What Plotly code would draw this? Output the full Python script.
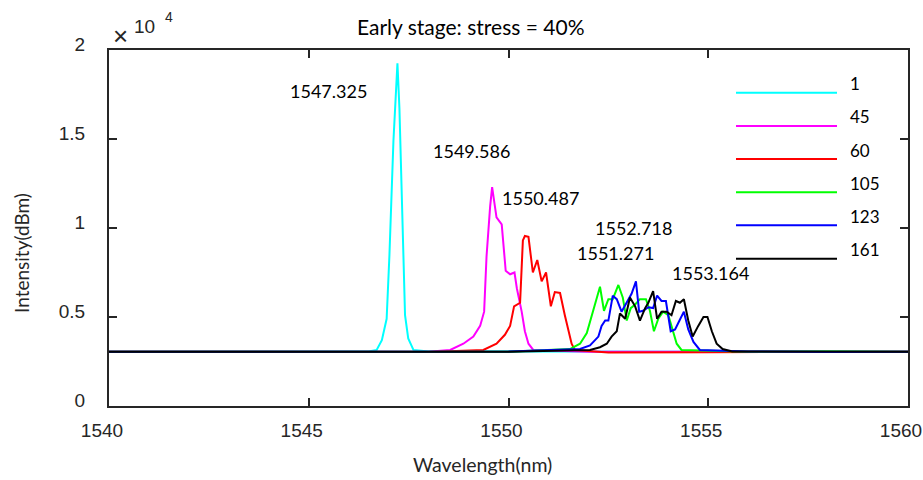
import plotly.graph_objects as go

# ---------------- data (intensity in counts) ----------------
series_names = ["1", "45", "60", "105", "123", "161"]
series_colors = ["#00FFFF", "#FF00FF", "#FF0000", "#00FF00", "#0000FF", "#000000"]

wl_1 = [1540.0, 1542.0, 1544.0, 1546.0, 1546.5, 1546.70, 1546.83, 1546.95, 1547.02, 1547.12, 1547.22,
        1547.27, 1547.33, 1547.41, 1547.49, 1547.62, 1548.0, 1550.0, 1552.0, 1554.0, 1556.0, 1558.0, 1560.0]
int_1 = [3050, 3060, 3040, 3070, 3060, 3150, 3700, 4900, 8500, 14900, 19250,
         16700, 11200, 5100, 3800, 3150, 3060, 3050, 3040, 3060, 3050, 3070, 3050]

wl_45 = [1540.0, 1543.0, 1546.0, 1548.0, 1548.54, 1548.87, 1549.12, 1549.29, 1549.39, 1549.45, 1549.54,
         1549.59, 1549.70, 1549.83, 1549.93, 1550.04, 1550.15, 1550.21, 1550.33, 1550.41, 1550.50, 1550.62,
         1552.0, 1555.0, 1558.0, 1560.0]
int_45 = [3050, 3040, 3060, 3050, 3150, 3500, 3900, 4500, 5300, 8400, 11200,
          12300, 10600, 10200, 7600, 7400, 7500, 6600, 5300, 4200, 3500, 3150,
          3050, 3040, 3060, 3050]

wl_60 = [1540.0, 1544.0, 1548.0, 1549.37, 1549.70, 1549.91, 1550.04, 1550.14, 1550.29, 1550.36, 1550.41,
         1550.50, 1550.61, 1550.72, 1550.83, 1550.94, 1551.06, 1551.16, 1551.29, 1551.41, 1551.50, 1551.58,
         1551.66, 1552.5, 1555.0, 1558.0, 1560.0]
int_60 = [3050, 3060, 3040, 3150, 3500, 4000, 4500, 5600, 5800, 9300, 9550,
          9500, 7500, 8200, 7000, 7500, 5600, 6400, 6350, 5100, 4200, 3500,
          3150, 3000, 3020, 3040, 3050]

wl_105 = [1540.0, 1545.0, 1550.0, 1551.54, 1551.79, 1551.96, 1552.12, 1552.22, 1552.29, 1552.39, 1552.50,
          1552.61, 1552.75, 1552.86, 1552.96, 1553.06, 1553.17, 1553.29, 1553.44, 1553.54, 1553.64, 1553.75,
          1553.87, 1554.00, 1554.11, 1554.21, 1554.33, 1556.0, 1558.0, 1560.0]
int_105 = [3050, 3060, 3050, 3200, 3500, 4100, 5400, 6200, 6700, 5350, 6000,
           6000, 6800, 6100, 4800, 5500, 5700, 6000, 6000, 5350, 4200, 4900,
           5300, 5100, 4300, 3500, 3150, 3050, 3060, 3050]

wl_123 = [1540.0, 1545.0, 1550.0, 1551.79, 1552.04, 1552.25, 1552.33, 1552.42, 1552.50, 1552.61, 1552.71,
          1552.83, 1552.96, 1553.08, 1553.19, 1553.27, 1553.37, 1553.50, 1553.62, 1553.72, 1553.83, 1553.94,
          1554.06, 1554.17, 1554.28, 1554.39, 1554.50, 1554.63, 1554.79, 1556.0, 1558.0, 1560.0]
int_123 = [3050, 3050, 3060, 3200, 3400, 3900, 4500, 4800, 4800, 6200, 6000,
           5300, 5800, 6300, 7000, 5300, 5350, 5550, 5500, 6200, 5900, 5900,
           4200, 4300, 4800, 5300, 4300, 3600, 3150, 3060, 3040, 3050]

wl_161 = [1540.0, 1545.0, 1550.0, 1552.04, 1552.29, 1552.46, 1552.58, 1552.71, 1552.79, 1552.92, 1553.04,
          1553.17, 1553.29, 1553.42, 1553.50, 1553.62, 1553.72, 1553.83, 1553.96, 1554.08, 1554.19, 1554.29,
          1554.39, 1554.50, 1554.61, 1554.75, 1554.88, 1554.98, 1555.09, 1555.21, 1555.36, 1555.6, 1560.0]
int_161 = [3050, 3060, 3050, 3150, 3300, 3500, 3900, 4200, 5200, 4900, 6100,
           5600, 4800, 5500, 5800, 6450, 4900, 5300, 5300, 5100, 5900, 5800,
           6000, 4800, 3900, 4500, 5000, 5000, 4200, 3500, 3200, 3060, 3050]

series_wl = [wl_1, wl_45, wl_60, wl_105, wl_123, wl_161]
series_int = [int_1, int_45, int_60, int_105, int_123, int_161]

peak_labels = ["1547.325", "1549.586", "1550.487", "1552.718", "1551.271", "1553.164"]
peak_label_x = [1545.49, 1549.08, 1550.81, 1553.12, 1552.69, 1555.06]
peak_label_y = [17670, 14300, 11690, 10000, 8600, 7500]

x_ticks = [1540, 1545, 1550, 1555, 1560]
y_tick_vals = [0, 5000, 10000, 15000, 20000]
y_tick_text = ["0", "0.5", "1", "1.5", "2"]

# ---------------- figure ----------------
AX = "#262626"
TXT_FONT = "Lato"
NUM_FONT = "Liberation Sans"

fig = go.Figure()
for name, color, xs, ys in zip(series_names, series_colors, series_wl, series_int):
    fig.add_trace(go.Scatter(x=xs, y=ys, mode="lines", name=name,
                             line=dict(color=color, width=2), showlegend=False))

W, H = 923, 480
PL, PR, PT, PB = 109, 908, 50, 406   # plot box in page pixels
L, R, T, B = PL, W - PR, PT, H - PB
pw, ph = W - L - R, H - T - B

def px(xp):
    return (xp - L) / pw

def py(yp):
    return (H - B - yp) / ph

annotations = []
for t, x, y in zip(peak_labels, peak_label_x, peak_label_y):
    annotations.append(dict(x=x, y=y, xref="x", yref="y", text=t, showarrow=False,
                            font=dict(family=TXT_FONT, size=18, color="black"),
                            xanchor="center", yanchor="middle"))

# title
annotations.append(dict(x=px(470), y=py(27), xref="paper", yref="paper", text="Early stage: stress = 40%",
                        showarrow=False, font=dict(family=TXT_FONT, size=21, color="black"),
                        xanchor="center", yanchor="middle"))
# axis titles
annotations.append(dict(x=px(482), y=py(465), xref="paper", yref="paper", text="Wavelength(nm)",
                        showarrow=False, font=dict(family=TXT_FONT, size=19.5, color=AX),
                        xanchor="center", yanchor="middle"))
annotations.append(dict(x=px(21), y=py(253), xref="paper", yref="paper", text="Intensity(dBm)",
                        showarrow=False, textangle=-90, font=dict(family=TXT_FONT, size=19, color=AX),
                        xanchor="center", yanchor="middle"))
# exponent
annotations.append(dict(x=px(120), y=py(36), xref="paper", yref="paper", text="×",
                        showarrow=False, font=dict(family=NUM_FONT, size=26, color=AX),
                        xanchor="center", yanchor="middle"))
annotations.append(dict(x=px(144), y=py(26), xref="paper", yref="paper", text="10",
                        showarrow=False, font=dict(family=NUM_FONT, size=19, color=AX),
                        xanchor="center", yanchor="middle"))
annotations.append(dict(x=px(169), y=py(17), xref="paper", yref="paper", text="4",
                        showarrow=False, font=dict(family=NUM_FONT, size=14, color=AX),
                        xanchor="center", yanchor="middle"))

# manual legend
shapes = []
leg_line_y = [92.7, 126, 159, 192.3, 225.3, 258.7]
for name, color, ly in zip(series_names, series_colors, leg_line_y):
    shapes.append(dict(type="line", xref="paper", yref="paper", x0=px(736), x1=px(837),
                       y0=py(ly), y1=py(ly), line=dict(color=color, width=2)))
    annotations.append(dict(x=px(848), y=py(ly - 9), xref="paper", yref="paper", text=name,
                            showarrow=False, font=dict(family=TXT_FONT, size=17, color="black"),
                            xanchor="left", yanchor="middle"))

fig.update_layout(
    width=W, height=H,
    margin=dict(l=L, r=R, t=T, b=B, pad=0, autoexpand=False),
    paper_bgcolor="white", plot_bgcolor="white",
    showlegend=False,
    annotations=annotations,
    shapes=shapes,
    xaxis=dict(range=[1540, 1560], tickvals=x_ticks, ticks="inside", ticklen=8, tickwidth=1.5,
               tickcolor=AX, showline=True, linecolor=AX, linewidth=2, mirror="ticks",
               showgrid=False, zeroline=False, automargin=False,
               tickfont=dict(family=NUM_FONT, size=19, color=AX), ticklabelstandoff=6,
               ticklabelshift=-7),
    yaxis=dict(range=[0, 20000], tickvals=y_tick_vals, ticktext=y_tick_text, ticks="inside",
               ticklen=8, tickwidth=1.5, tickcolor=AX, showline=True, linecolor=AX, linewidth=2,
               mirror="ticks", showgrid=False, zeroline=False, automargin=False,
               tickfont=dict(family=NUM_FONT, size=19, color=AX), ticklabelstandoff=18,
               ticklabelshift=-6),
)

fig.write_html("out.html", config={"displayModeBar": False},
               post_script="document.body.style.margin='0';document.body.style.overflow='hidden';")
